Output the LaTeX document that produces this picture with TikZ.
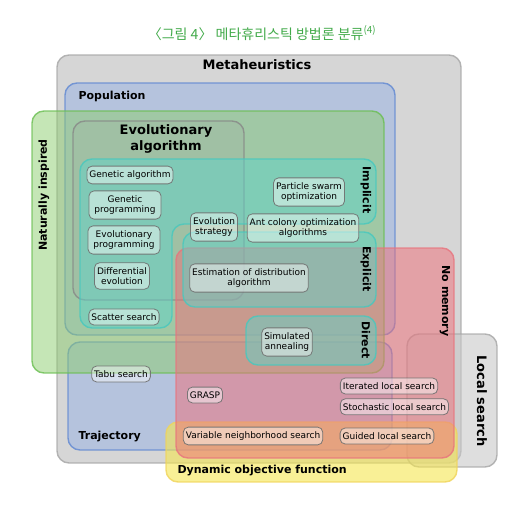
\documentclass[tikz,border=0pt]{standalone}
\usepackage{fontspec}
\setmainfont{DejaVu Sans}
\newfontfamily\krfont{Noto Sans CJK KR}
\usepackage{tikz}
\usetikzlibrary{positioning}
\definecolor{titlegreen}{RGB}{66,170,74}
\definecolor{metafill}{RGB}{214,214,214}
\definecolor{metaedge}{RGB}{165,165,165}
\definecolor{lsfill}{RGB}{200,200,200}
\definecolor{popfill}{RGB}{150,178,228}
\definecolor{popedge}{RGB}{95,135,210}
\definecolor{natfill}{RGB}{140,205,110}
\definecolor{natedge}{RGB}{105,190,80}
\definecolor{evofill}{RGB}{160,160,160}
\definecolor{evoedge}{RGB}{135,135,135}
\definecolor{tealfill}{RGB}{95,210,200}
\definecolor{tealedge}{RGB}{70,200,190}
\definecolor{redfill}{RGB}{240,110,120}
\definecolor{rededge}{RGB}{232,115,125}
\definecolor{yelfill}{RGB}{245,230,80}
\definecolor{yeledge}{RGB}{240,212,90}
\definecolor{algoedge}{RGB}{110,110,110}

\begin{document}
\begin{tikzpicture}[x=1pt, y=-1pt]
    \tikzstyle{region} = [line width=1.4pt, rounded corners=12pt, fill opacity=0.5, draw opacity=0.8]
    \tikzstyle{algo} = [draw=algoedge, fill=white, fill opacity=0.45, draw opacity=0.9, text opacity=1, rounded corners=5pt, line width=0.8pt, inner xsep=2.5pt, inner ysep=4.5pt, align=center, font=\fontsize{9}{10.5}\selectfont]
    \tikzstyle{setname} = [font=\fontsize{11}{13}\selectfont\bfseries]
    \tikzstyle{heading} = [font=\fontsize{13}{16}\selectfont\bfseries, align=center]
    \tikzstyle{title} = [font=\krfont\fontsize{14}{16}\selectfont, text=titlegreen]

    \useasboundingbox (0,0) rectangle (524,505);

    \node[title] (title) at (262,33) {〈그림 4〉 메타휴리스틱 방법론 분류\textsuperscript{(4)}};

    % Sets
    \draw[region, fill=metafill, draw=metaedge, fill opacity=1] (57,55) rectangle (461,463);
    \draw[region, fill=lsfill, draw=metaedge, fill opacity=0.6] (407,334) rectangle (497,467);
    \draw[region, fill=popfill, draw=popedge] (65,83) rectangle (395,335);
    \draw[region, fill=popfill, draw=popedge] (68,342) rectangle (392,450);
    \draw[region, fill=natfill, draw=natedge] (32,111) rectangle (384,373);
    \draw[region, fill=evofill, draw=evoedge, fill opacity=0.2] (73,121) rectangle (244,300);
    \draw[region, fill=yelfill, draw=yeledge, fill opacity=0.6] (166,422) rectangle (457,482);
    \draw[region, fill=redfill, draw=rededge] (176,248) rectangle (454,458);
    \draw[region, fill=tealfill, draw=tealedge] (80,159) -- (376,159) -- (376,224) -- (172,224) -- (172,328) -- (80,328) -- cycle;
    \draw[region, fill=tealfill, draw=tealedge] (183,232) rectangle (376,307);
    \draw[region, fill=tealfill, draw=tealedge] (246,316) rectangle (376,365);

    % Set names
    \node[heading] (meta) at (257,65) {Metaheuristics};
    \node[setname, anchor=west] (pop) at (75,96) {Population};
    \node[setname, anchor=west] (traj) at (75,437) {Trajectory};
    \node[setname, anchor=west] (dyn) at (174,471) {Dynamic objective function};
    \node[setname, rotate=90] (nat) at (44,195) {Naturally inspired};
    \node[heading] (evo) at (166,139) {Evolutionary\\algorithm};
    \node[setname, rotate=-90] (impl) at (366,190) {Implicit};
    \node[setname, rotate=-90] (expl) at (366,269) {Explicit};
    \node[setname, rotate=-90] (dir) at (366,340) {Direct};
    \node[setname, rotate=-90] (nomem) at (445,301) {No memory};
    \node[heading, rotate=-90] (ls) at (482,401) {Local search};

    % Algorithms
    \node[algo] (ga) at (130,175) {Genetic algorithm};
    \node[algo, minimum width=72pt] (gp) at (125,205) {Genetic\\programming};
    \node[algo, minimum width=72pt] (ep) at (124,240) {Evolutionary\\programming};
    \node[algo] (de) at (122,276) {Differential\\evolution};
    \node[algo] (ss) at (124,317) {Scatter search};
    \node[algo] (pso) at (309,192) {Particle swarm\\optimization};
    \node[algo] (es) at (214,227) {Evolution\\strategy};
    \node[algo] (aco) at (303,228) {Ant colony optimization\\algorithms};
    \node[algo] (eda) at (249,278) {Estimation of distribution\\algorithm};
    \node[algo] (sa) at (287,342) {Simulated\\annealing};
    \node[algo] (tabu) at (121,374) {Tabu search};
    \node[algo] (grasp) at (205,395) {GRASP};
    \node[algo] (ils) at (389,386) {Iterated local search};
    \node[algo, below=4pt of ils.south west, anchor=north west] (sls) {Stochastic local search};
    \node[algo] (vns) at (253,436) {Variable neighborhood search};
    \node[algo] (gls) at (387,436) {Guided local search};
\end{tikzpicture}
\end{document}
